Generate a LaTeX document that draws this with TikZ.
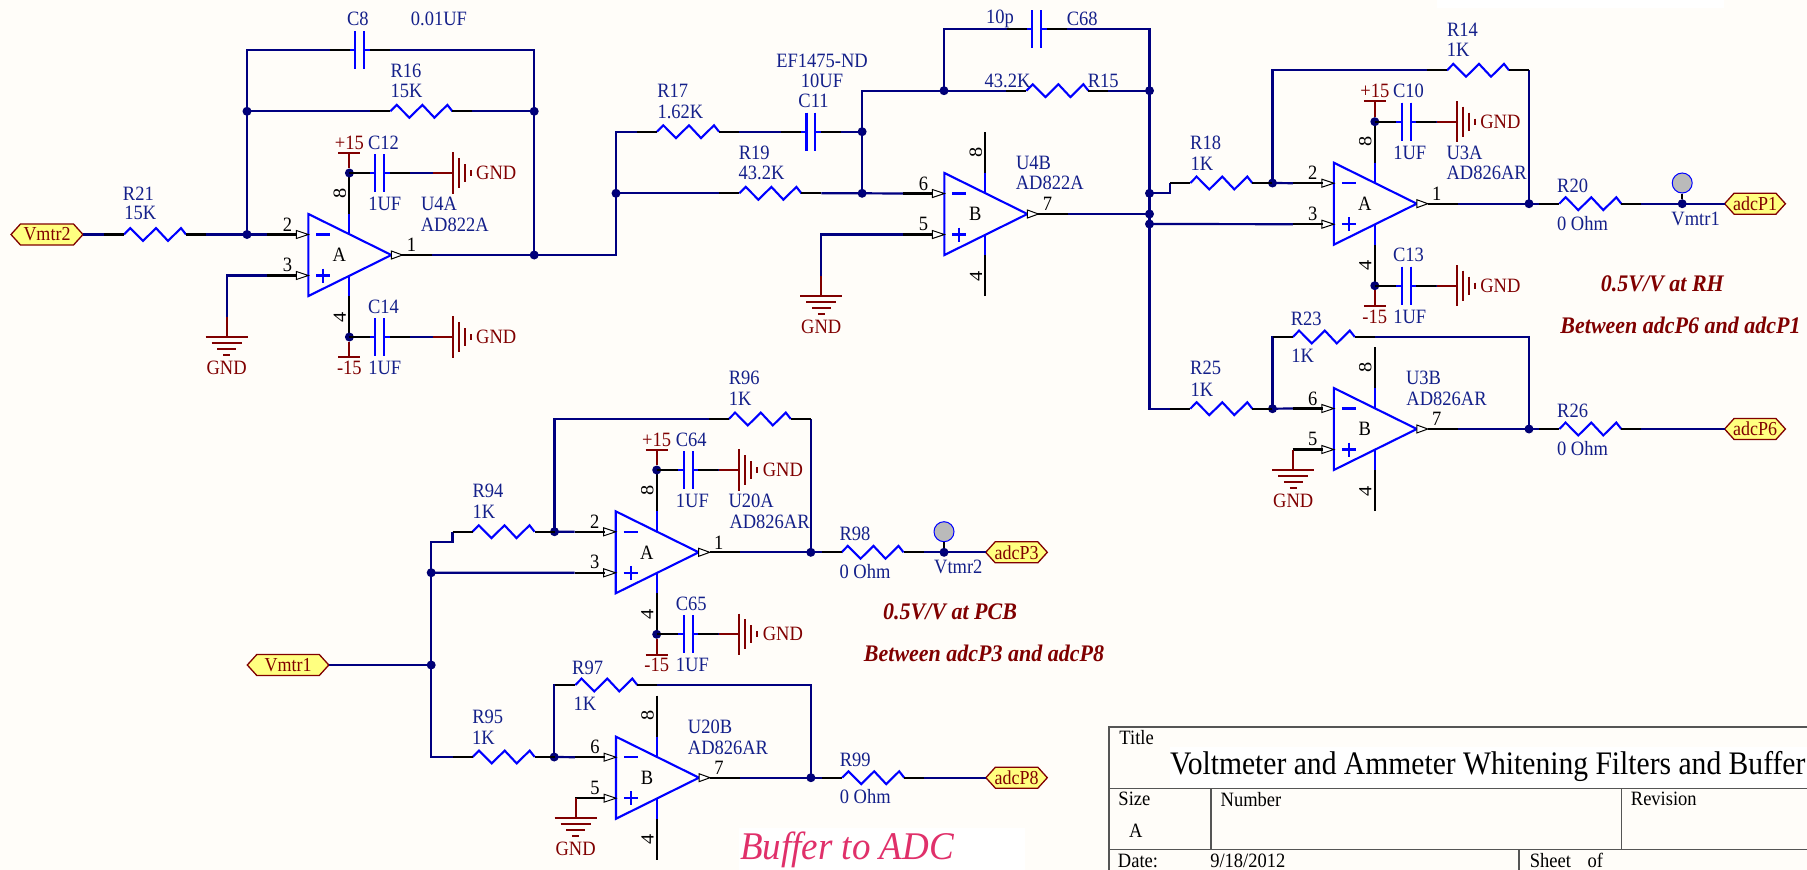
\documentclass[tikz,border=0pt]{standalone}
\usepackage{fontspec}
\usepackage{graphicx}
\setmainfont{Liberation Serif}
\definecolor{bgc}{HTML}{FFFDF9}
\definecolor{wirec}{HTML}{000080}
\definecolor{bluec}{HTML}{0000FF}
\definecolor{redc}{HTML}{800000}
\definecolor{textc}{HTML}{14208A}
\definecolor{framec}{HTML}{555555}
\definecolor{pinkc}{HTML}{E0306A}
\definecolor{portc}{HTML}{FFFF80}
\newcount\labn
\tikzset{
 wire/.style={draw=wirec,line width=2.2pt,line join=miter},
 pinline/.style={draw=black,line width=2.1pt},
 body/.style={draw=bluec,line width=2.1pt},
 rail/.style={draw=redc,line width=2.1pt},
 junc/.style={circle,fill=wirec!90!black,minimum size=9pt,inner sep=0pt},
 lbl/.style={inner sep=0pt,text=textc,font=\fontsize{18.5}{20}\selectfont},
 lblr/.style={lbl,text=redc},
 lblk/.style={lbl,text=black},
 note/.style={inner sep=0pt,text=redc,font=\fontsize{22}{24}\selectfont\bfseries\itshape},
 frame/.style={draw=framec,line width=1.6pt},
 porttext/.style={inner sep=0pt,text=redc,font=\fontsize{18}{20}\selectfont}
}
\newcommand\Lb[4][lbl]{\global\advance\labn by 1 \node[#1] (t\the\labn) at (#2,#3) {\scalebox{1}[1.1]{#4}};}
\newcommand\Nt[3]{\global\advance\labn by 1 \node[note] (t\the\labn) at (#1,#2) {\scalebox{1}[1.08]{#3}};}
\newcommand\J[3]{\node[junc] (#1) at (#2,#3) {};}
\newcommand\Res[3]{%
 \coordinate (#1-l) at (#2-51,#3);\coordinate (#1-r) at (#2+51,#3);
 \draw[pinline] (#1-l) -- ++(20,0);\draw[pinline] (#1-r) -- ++(-20,0);
 \draw[body,line join=miter] (#2-31,#3) -- ++(6.3,-6.4) -- ++(12.7,12.8) -- ++(13,-12.8) -- ++(12,12.8) -- ++(13,-12.8) -- ++(5,6.4);
}
\newcommand\Cp[3]{%
 \coordinate (#1-l) at (#2-30,#3);\coordinate (#1-r) at (#2+30,#3);
 \draw[pinline] (#1-l) -- ++(20,0);\draw[pinline] (#1-r) -- ++(-20,0);
 \draw[body] (#2-10,#3) -- (#2-4.4,#3) (#2+10,#3) -- (#2+4.4,#3);
 \draw[body] (#2-4.4,#3-19) -- (#2-4.4,#3+19) (#2+4.4,#3-19) -- (#2+4.4,#3+19);
}
% name, left, y, letter, pin a, pin b, pin out
\newcommand\Opamp[7]{%
 \coordinate (#1-a) at (#2-41,#3-20.5);\coordinate (#1-b) at (#2-41,#3+20.5);
 \coordinate (#1-o) at (#2+83+41,#3);
 \draw[pinline] (#2+41,#3-82) -- (#2+41,#3-41);\draw[pinline] (#2+41,#3+82) -- (#2+41,#3+41);
 \draw[body] (#2+41,#3-41) -- (#2+41,#3-21);\draw[body] (#2+41,#3+41) -- (#2+41,#3+21);
 \draw[pinline] (#1-a) -- ++(30,0);\draw[pinline] (#1-b) -- ++(30,0);\draw[pinline] (#1-o) -- ++(-30,0);
 \draw[body,line join=miter,fill=bgc] (#2,#3-41) -- (#2+83,#3) -- (#2,#3+41) -- cycle;
 \draw[black,line width=1pt,fill=white] (#2-12,#3-24.5) -- (#2,#3-20.5) -- (#2-12,#3-16.5) -- cycle;
 \draw[black,line width=1pt,fill=white] (#2-12,#3+16.5) -- (#2,#3+20.5) -- (#2-12,#3+24.5) -- cycle;
 \draw[black,line width=1pt,fill=white] (#2+83,#3-4) -- (#2+94,#3) -- (#2+83,#3+4) -- cycle;
 \draw[bluec,line width=2.1pt] (#2+8,#3-20.5) -- (#2+22,#3-20.5) (#2+8,#3+20.5) -- (#2+22,#3+20.5) (#2+15,#3+13.5) -- (#2+15,#3+27.5);
 \Lb[lblk]{#2+31}{#3}{#4}
 \Lb[lblk]{#2-21}{#3-30.5}{#5}
 \Lb[lblk]{#2-21}{#3+10}{#6}
 \Lb[lblk]{#2+103}{#3-10}{#7}
 \global\advance\labn by 1 \node[lblk,rotate=90] (t\the\labn) at (#2+31.5,#3-62) {\scalebox{1.1}[1]{8}};
 \global\advance\labn by 1 \node[lblk,rotate=90] (t\the\labn) at (#2+31.5,#3+62) {\scalebox{1.1}[1]{4}};
}
\newcommand\GndD[4]{%
 \coordinate (#1) at (#2,#3);
 \draw[rail] (#1) -- (#2,#4);
 \draw[rail] (#2-21,#4) -- (#2+21,#4);
 \draw[rail] (#2-15,#4+6) -- (#2+15,#4+6);
 \draw[rail] (#2-9.3,#4+12) -- (#2+9.3,#4+12);
 \draw[rail] (#2-3.3,#4+18) -- (#2+3.3,#4+18);
 \Lb[lblr]{#2}{#4+31}{GND}
}
\newcommand\GndR[4]{%
 \coordinate (#1) at (#4,#3);
 \draw[rail] (#1) -- (#2,#3);
 \draw[rail] (#2,#3-20.7) -- (#2,#3+20.7);
 \draw[rail] (#2+6,#3-15) -- (#2+6,#3+15);
 \draw[rail] (#2+12,#3-9) -- (#2+12,#3+9);
 \draw[rail] (#2+18,#3-3) -- (#2+18,#3+3);
 \Lb[lblr]{#2+43.5}{#3}{GND}
}
% name, pin x, y, cap x, gnd x, bar y, supply label y, supply text
\newcommand\Byp[8]{%
 \J{#1-j}{#2}{#3}
 \Cp{#1-c}{#4}{#3}
 \GndR{#1-g}{#5}{#3}{#5-20}
 \draw[wire] (#1-j) -- (#1-c-l);\draw[wire] (#1-c-r) -- (#1-g);
 \draw[pinline] (#1-j.center) -- (#1-c-l);
 \coordinate (#1-b) at (#2,#6);
 \draw[rail] (#1-j) -- (#1-b);
 \draw[rail] (#2-11,#6) -- (#2+11,#6);
 \Lb[lblr]{#2}{#7}{#8}
 \Cp{#1-c}{#4}{#3}
}
\newcommand\Port[5]{%
 \draw[draw=redc,line width=1.3pt,fill=portc] (#2,#4) -- (#2+9.5,#4-10.5) -- (#3-9.5,#4-10.5) -- (#3,#4) -- (#3-9.5,#4+10.5) -- (#2+9.5,#4+10.5) -- cycle;
 \coordinate (#1-l) at (#2,#4);\coordinate (#1-r) at (#3,#4);
 \node[porttext] (#1-t) at ({(#2+#3)/2},#4) {\scalebox{1}[1.1]{#5}};
}
\newcommand\TP[4]{%
 \node[circle,draw=bluec,fill=black!27,line width=1pt,minimum size=20pt,inner sep=0pt] (#1) at (#2,#3) {};
 \draw[pinline] (#1) -- (#4);
}
\begin{document}
\begin{tikzpicture}[x=1pt,y=-1pt]
\useasboundingbox (0,0) rectangle (1807,870);
\fill[bgc] (0,0) rectangle (1807,870);
\fill[white] (1436.6,0) rectangle (1723.7,8);
\fill[white] (739,828) rectangle (1025.4,870);
\fill[white] (1170,746.7) rectangle (1807,788);

% ---------- junctions
\J{j1}{247}{111.3}\J{j2}{534.2}{111.3}\J{j3}{247}{234.5}\J{j4}{534.2}{255}
\J{j5}{616}{193.3}\J{j6}{862.1}{193.3}\J{j7}{862.1}{131.7}\J{j9}{944}{90.7}
\J{j10}{1149.5}{90.7}\J{j11}{1149.5}{193.3}\J{j12}{1149.5}{214}\J{j13}{1149.5}{224}
\J{j14}{1272.5}{183}\J{j15}{1529}{203.7}\J{j16}{1682.2}{203.7}
\J{j17}{1272.5}{408.7}\J{j18}{1529}{429}
\J{j20}{431.2}{572.7}\J{j21}{554.5}{531.7}\J{j22}{810.8}{552.3}\J{j23}{944}{552.3}
\J{j24}{431.2}{665}\J{j25}{554.2}{757}\J{j26}{810.9}{777.7}

% ---------- ports
\Port{pV2}{11}{83}{234.5}{Vmtr2}
\Port{pP1}{1724.6}{1785.4}{203.7}{adcP1}
\Port{pP6}{1724.6}{1785.4}{429}{adcP6}
\Port{pP3}{985.7}{1047.3}{552.3}{adcP3}
\Port{pV1}{247.3}{328.8}{665}{Vmtr1}
\Port{pP8}{985.9}{1047.3}{777.7}{adcP8}

% ---------- components
\Res{R21}{155}{234.5}\Res{R16}{421.4}{111.3}
\Res{R17}{688}{131.7}\Res{R19}{770.4}{193.3}\Res{R15}{1057.4}{90.7}
\Res{R18}{1221.3}{183}\Res{R14}{1478}{70.3}\Res{R20}{1590.3}{203.7}
\Res{R25}{1221.3}{408.7}\Res{R23}{1323.8}{337}\Res{R26}{1590.3}{429}
\Res{R94}{503.5}{531.7}\Res{R96}{759.8}{419}\Res{R98}{872.5}{552.3}
\Res{R95}{503.7}{757}\Res{R97}{606.3}{685}\Res{R99}{873.2}{777.7}
\Cp{C8}{359.8}{50}\Cp{C11}{810.9}{131.7}\Cp{C68}{1036.7}{29.3}
\Opamp{U4A}{308.4}{255}{A}{2}{3}{1}
\Opamp{U4B}{944.4}{214}{B}{6}{5}{7}
\Opamp{U3A}{1333.8}{203.7}{A}{2}{3}{1}
\Opamp{U3B}{1333.8}{429}{B}{6}{5}{7}
\Opamp{U20A}{615.7}{552.3}{A}{2}{3}{1}
\Opamp{U20B}{616}{777.7}{B}{6}{5}{7}

% ---------- wires
\draw[wire] (pV2-r) -- (R21-l);
\draw[wire] (R21-r) -- (j3.center) -- (U4A-a);
\draw[wire] (j3.center) -- (j1.center) -- (R16-l);
\draw[wire] (R16-r) -- (j2.center);
\draw[wire] (j1.center) |- (C8-l);
\draw[wire] (C8-r) -| (j2.center) -- (j4.center);
\draw[wire] (U4A-o) -- (j4.center) -| (j5.center) |- (R17-l);
\draw[wire] (j5.center) -- (R19-l);
\draw[wire] (R19-r) -- (j6.center) -- (U4B-a);
\draw[wire] (R17-r) -- (C11-l);
\draw[wire] (C11-r) -- (j7.center);
\draw[wire] (j6.center) -- (j7.center) |- (j9.center) -- (R15-l);
\draw[wire] (R15-r) -- (j10.center);
\draw[wire] (j9.center) |- (C68-l);
\draw[wire] (C68-r) -| (j10.center) -- (j13.center) |- (R25-l);
\draw[wire] (U4B-o) -- (j12.center);
\draw[wire] (j11.center) -- (1170.3,193.3) -- (R18-l);
\draw[wire] (R18-r) -- (j14.center) -- (U3A-a);
\draw[wire] (j13.center) -- (U3A-b);
\draw[wire] (j14.center) |- (R14-l);
\draw[wire] (R14-r) -| (j15.center);
\draw[wire] (U3A-o) -- (j15.center) -- (R20-l);
\draw[wire] (R20-r) -- (j16.center) -- (pP1-l);
\draw[wire] (R25-r) -- (j17.center) -- (U3B-a);
\draw[wire] (j17.center) |- (R23-l);
\draw[wire] (R23-r) -| (j18.center);
\draw[wire] (U3B-o) -- (j18.center) -- (R26-l);
\draw[wire] (R26-r) -- (pP6-l);
\draw[wire] (j20.center) -- (431.2,542) -- (452.5,542) -- (R94-l);
\draw[wire] (R94-r) -- (j21.center) -- (U20A-a);
\draw[wire] (j21.center) |- (R96-l);
\draw[wire] (R96-r) -| (j22.center);
\draw[wire] (U20A-o) -- (j22.center) -- (R98-l);
\draw[wire] (R98-r) -- (j23.center) -- (pP3-l);
\draw[wire] (j20.center) -- (U20A-b);
\draw[wire] (j20.center) -- (j24.center) |- (R95-l);
\draw[wire] (pV1-r) -- (j24.center);
\draw[wire] (R95-r) -- (j25.center) -- (U20B-a);
\draw[wire] (j25.center) |- (R97-l);
\draw[wire] (R97-r) -| (j26.center);
\draw[wire] (U20B-o) -- (j26.center) -- (R99-l);
\draw[wire] (R99-r) -- (pP8-l);

% black pin segments over the wires
\foreach \n in {R21,R16,R17,R19,R15,R18,R14,R20,R25,R23,R26,R94,R96,R98,R95,R97,R99}{
 \draw[pinline] (\n-l) -- ++(20,0);\draw[pinline] (\n-r) -- ++(-20,0);}
\foreach \n in {C8,C11,C68}{
 \draw[pinline] (\n-l) -- ++(20,0);\draw[pinline] (\n-r) -- ++(-20,0);}
\foreach \n in {U4A,U4B,U3A,U3B,U20A,U20B}{
 \draw[pinline] (\n-a) -- ++(30,0);\draw[pinline] (\n-b) -- ++(30,0);\draw[pinline] (\n-o) -- ++(-30,0);}

% ---------- grounds on inputs
\draw[wire] (U4A-b) -| (226.6,316.7);
\GndD{g1}{226.6}{316.7}{336.7}
\draw[wire] (U4B-b) -| (821.2,276);
\GndD{g2}{821.2}{276}{295.7}
\draw[pinline] (U3B-b) -- (1293.2,449.5);
\GndD{g3}{1293.2}{449.5}{470}
\draw[pinline] (U20B-b) -- (575.6,798.2);
\GndD{g4}{575.6}{798.2}{818.3}

% ---------- supply + bypass
\Byp{b1}{349.4}{173}{379.8}{452.7}{153}{143.3}{+15}
\Byp{b2}{349.4}{337}{379.8}{452.7}{357}{367.7}{-15}
\Byp{b3}{1374.8}{121.7}{1406.3}{1456.9}{100.7}{90.7}{+15}
\Byp{b4}{1374.8}{285.7}{1406.3}{1456.9}{306}{316.7}{-15}
\Byp{b5}{656.7}{470}{688.4}{739.4}{450}{440}{+15}
\Byp{b6}{656.7}{634.3}{688.4}{739.4}{655}{665}{-15}

% ---------- test points
\TP{tp1}{1682.2}{183}{j16}
\TP{tp2}{944}{531.7}{j23}

% ---------- labels
\Lb{138.4}{194}{R21}\Lb{140.4}{213}{15K}
\Lb{357.8}{19}{C8}\Lb{439}{19}{0.01UF}
\Lb{406}{70.7}{R16}\Lb{406.5}{90.7}{15K}
\Lb{383.5}{143.3}{C12}\Lb{384.7}{204}{1UF}
\Lb{439}{204}{U4A}\Lb{454.7}{225.3}{AD822A}
\Lb{383.5}{306.7}{C14}\Lb{384.7}{367.7}{1UF}
\Lb{672.7}{90.7}{R17}\Lb{680.4}{112.3}{1.62K}
\Lb{822}{61}{EF1475-ND}\Lb{822}{81}{10UF}\Lb{813.5}{101}{C11}
\Lb{754.2}{152.7}{R19}\Lb{761.5}{173.3}{43.2K}
\Lb{1000}{19}{10p}\Lb{1082.2}{19}{C68}
\Lb{1007.6}{81}{43.2K}\Lb{1103.3}{81}{R15}
\Lb{1033.6}{163}{U4B}\Lb{1049.7}{183}{AD822A}
\Lb{1205.6}{143.3}{R18}\Lb{1202}{163.3}{1K}
\Lb{1462.5}{30}{R14}\Lb{1458.2}{50}{1K}
\Lb{1408.5}{90.7}{C10}\Lb{1409.8}{153.3}{1UF}
\Lb{1464.6}{153.3}{U3A}\Lb{1486.7}{173.3}{AD826AR}
\Lb{1408.5}{255}{C13}\Lb{1409.8}{316.7}{1UF}
\Lb{1572.6}{185.7}{R20}\Lb{1582.5}{223.3}{0 Ohm}
\Lb{1695.6}{219}{Vmtr1}
\Lb{1306.2}{319}{R23}\Lb{1302.7}{355.7}{1K}
\Lb{1205.6}{368.3}{R25}\Lb{1202}{389.3}{1K}
\Lb{1423.6}{378.3}{U3B}\Lb{1446.5}{399.3}{AD826AR}
\Lb{1572.6}{411}{R26}\Lb{1582.5}{448.3}{0 Ohm}
\Lb{744.3}{378}{R96}\Lb{740.2}{399}{1K}
\Lb{691.2}{440}{C64}\Lb{692.4}{501}{1UF}
\Lb{751.2}{501}{U20A}\Lb{769.6}{522.3}{AD826AR}
\Lb{488}{490.7}{R94}\Lb{483.9}{511.7}{1K}
\Lb{691.2}{604.3}{C65}\Lb{692.4}{665}{1UF}
\Lb{855}{534}{R98}\Lb{865}{571.7}{0 Ohm}\Lb{958.3}{567.3}{Vtmr2}
\Lb{587.6}{668.3}{R97}\Lb{585}{704}{1K}
\Lb{487.8}{717.3}{R95}\Lb{483.4}{737.3}{1K}
\Lb{710}{727.3}{U20B}\Lb{728}{747.7}{AD826AR}
\Lb{855.3}{760}{R99}\Lb{865.2}{796.7}{0 Ohm}
\Nt{1662.4}{284}{0.5V/V at RH}
\Nt{1680.5}{325}{Between adcP6 and adcP1}
\Nt{950}{611.7}{0.5V/V at PCB}
\Nt{984}{653.3}{Between adcP3 and adcP8}
\node[inner sep=0pt,text=pinkc,font=\fontsize{37}{40}\selectfont\itshape] (buf) at (847,850) {\scalebox{1}[1.06]{Buffer to ADC}};

% ---------- title block
\draw[frame] (1807,726.7) -- (1109.2,726.7) -- (1109.2,870);
\draw[frame] (1109.2,788.3) -- (1807,788.3);
\draw[frame] (1109.2,849.3) -- (1807,849.3);
\draw[frame] (1211.2,788.3) -- (1211.2,849.3);
\draw[frame] (1621.3,788.3) -- (1621.3,849.3);
\draw[frame] (1518.9,849.3) -- (1518.9,870);
\Lb[lblk]{1136.6}{737.3}{Title}
\node[anchor=west,inner sep=0pt,text=black,font=\fontsize{29.6}{32}\selectfont] (ttl) at (1170,766.7) {\scalebox{1}[1.11]{Voltmeter and Ammeter Whitening Filters and Buffer}};
\Lb[lblk]{1134.4}{799.3}{Size}\Lb[lblk]{1251}{799.3}{Number}\Lb[lblk]{1663.8}{799.3}{Revision}
\Lb[lblk]{1135.7}{830.7}{A}\Lb[lblk]{1138}{860.7}{Date:}\Lb[lblk]{1247.8}{860.7}{9/18/2012}
\Lb[lblk]{1566.5}{860.7}{Sheet\hspace{0.9em}of}
\end{tikzpicture}
\end{document}
